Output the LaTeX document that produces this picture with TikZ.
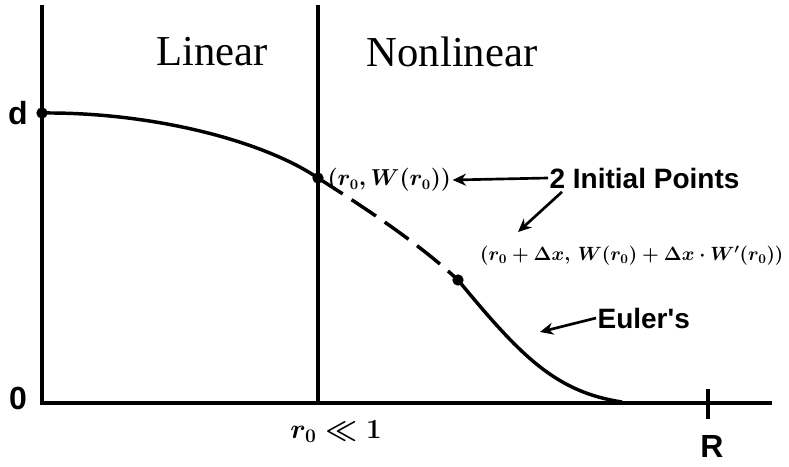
\documentclass[tikz,border=0pt]{standalone}
\usepackage{fontspec}
\setmainfont{Liberation Serif}
\newfontfamily\handfont{Liberation Sans}
\usetikzlibrary{arrows.meta}
\begin{document}
\begin{tikzpicture}[x=0.75pt,y=-0.75pt,
  axis/.style={line width=2.8pt},
  curve/.style={line width=2.6pt},
  dotmark/.style={circle,fill,inner sep=0pt,minimum size=8.5pt},
  handarrow/.style={line width=2pt,-{Stealth[length=10pt,width=9pt]}},
  region/.style={font=\fontsize{32}{36}\selectfont},
  lab/.style={font=\handfont\bfseries\fontsize{21}{24}\selectfont,inner sep=1pt},
  big/.style={font=\handfont\bfseries\fontsize{24}{26}\selectfont,inner sep=1pt},
  mlab/.style={font=\boldmath\fontsize{16}{19}\selectfont,inner sep=1pt}]
\useasboundingbox (0,0) rectangle (789,467);
% axes
\coordinate (ytop) at (42,5);
\coordinate (orig) at (42,403);
\coordinate (xend) at (772,403);
\coordinate (vtop) at (318,5);
\coordinate (vbot) at (318,403);
\draw[axis] (ytop) -- (orig) -- (xend);
\draw[axis] (vtop) -- (vbot);
% tick at R
\coordinate (rtop) at (708,389);
\coordinate (rbot) at (708,419);
\draw[line width=3.4pt] (rtop) -- (rbot);
% region labels
\node[region] (lin) at (212,52) {Linear};
\node[region] (nonlin) at (452,52) {Nonlinear};
% points
\node[dotmark] (dpt) at (42,113) {};
\node[dotmark] (p0) at (318,178) {};
\node[dotmark] (p1) at (458,280) {};
\coordinate (tail) at (622,402);
% curves
\draw[curve] (dpt.center) .. controls (150,112) and (262,140) .. (p0.center);
\draw[curve,dash pattern=on 22pt off 8pt] (p0.center) .. controls (360,205) and (415,240) .. (p1.center);
\draw[curve] (p1.center) .. controls (520,355) and (555,392) .. (tail);
% axis labels
\node[big] (dlab) at (18,113) {d};
\node[big] (olab) at (18,398) {0};
\node[big] (rlab) at (712,446) {R};
\node[mlab,font=\boldmath\fontsize{21}{24}\selectfont] (r0lab) at (336,432) {$r_0 \ll 1$};
% annotations
\node[mlab,anchor=west] (p0lab) at (326,180) {$(r_0, W(r_0))$};
\node[lab,anchor=west] (init) at (548,178) {2 Initial Points};
\draw[handarrow] (init.west) -- (p0lab.east);
\node[mlab,font=\boldmath\fontsize{14}{17}\selectfont,anchor=east] (p1lab) at (785,256) {$(r_0+\Delta x,\, W(r_0)+\Delta x\cdot W'(r_0))$};
\draw[handarrow] (init.south west) ++(14,2) coordinate (ia) -- (518,232);
\node[lab,anchor=west] (euler) at (596,318) {Euler's};
\coordinate (eulerend) at (540,332);
\draw[handarrow] (euler.west) -- (eulerend);
\end{tikzpicture}
\end{document}
